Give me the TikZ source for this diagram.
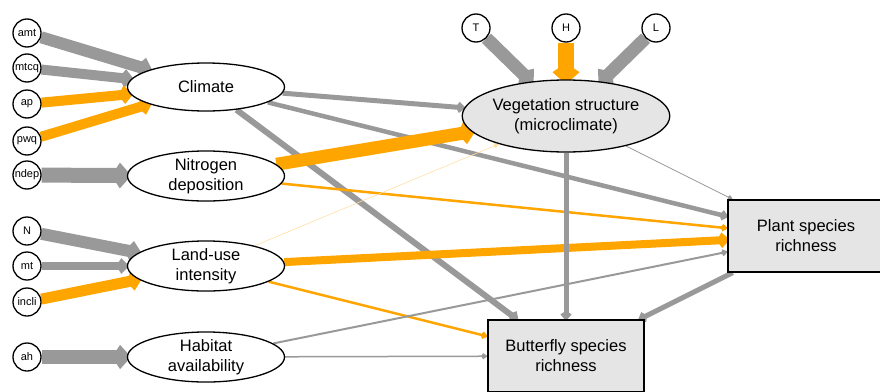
\documentclass[tikz,border=0pt]{standalone}
\usepackage{fontspec}
\setmainfont{Liberation Sans}
\usepackage{tikz}
\usetikzlibrary{shapes.geometric}
\usetikzlibrary{arrows.meta}
\usetikzlibrary{backgrounds}

\definecolor{effgray}{HTML}{999999}
\definecolor{efforange}{HTML}{FFA500}
\definecolor{boxgray}{HTML}{E5E5E5}

\begin{document}
\begin{tikzpicture}[x=1pt,y=-1pt,
    obs/.style={circle,draw,line width=1.3pt,fill=white,minimum size=28pt,
      inner sep=0pt,font=\fontsize{11}{13}\selectfont},
    lat/.style={ellipse,draw,line width=1.3pt,fill=white,minimum width=157pt,
      minimum height=48pt,inner sep=0pt,align=center,
      font=\fontsize{16.5}{20}\selectfont},
    resp/.style={rectangle,draw,line width=1.3pt,fill=boxgray,minimum width=156pt,
      minimum height=72pt,inner sep=0pt,align=center,
      font=\fontsize{16.5}{20}\selectfont},
    eff/.style 2 args={draw=#1,line width=#2pt,shorten >=-0.3*#2pt,
      -{Kite[length=5pt 1.0,width=4pt 1.45,inset=1pt 0.5]}}]
  \useasboundingbox (0,0) rectangle (880,391);

  % exogenous indicators
  \node[obs] (amt) at (27,33) {amt};
  \node[obs] (mtcq) at (27,68) {mtcq};
  \node[obs] (ap) at (27,104) {ap};
  \node[obs] (pwq) at (27,141) {pwq};
  \node[obs] (ndep) at (27,175) {ndep};
  \node[obs] (N) at (27,231) {N};
  \node[obs] (mt) at (27,266) {mt};
  \node[obs] (incli) at (27,302) {incli};
  \node[obs] (ah) at (27,357) {ah};
  \node[obs] (T) at (476,28) {T};
  \node[obs] (H) at (566,28) {H};
  \node[obs] (L) at (656,28) {L};

  % latent drivers
  \node[lat] (clim) at (206,87) {Climate};
  \node[lat] (ndepo) at (206,176) {Nitrogen\\deposition};
  \node[lat] (landuse) at (206,266) {Land-use\\intensity};
  \node[lat] (habitat) at (206,357) {Habitat\\availability};
  \node[lat,fill=boxgray,minimum width=180pt,minimum height=72pt] (veg)
    at (566,116) {Vegetation structure\\(microclimate)};

  % responses
  \node[resp] (plant) at (806,236) {Plant species\\richness};
  \node[resp] (butter) at (566,356) {Butterfly species\\richness};

  \begin{pgfonlayer}{background}
  % measurement paths
  \draw[eff={effgray}{12}] (amt) -- (clim);
  \draw[eff={effgray}{10}] (mtcq) -- (clim);
  \draw[eff={efforange}{10}] (ap) -- (clim);
  \draw[eff={efforange}{10}] (pwq) -- (clim);
  \draw[eff={effgray}{15}] (ndep) -- (ndepo);
  \draw[eff={effgray}{12}] (N) -- (landuse);
  \draw[eff={effgray}{8}] (mt) -- (landuse);
  \draw[eff={efforange}{11}] (incli) -- (landuse);
  \draw[eff={effgray}{14}] (ah) -- (habitat);
  \draw[eff={effgray}{13}] (T) -- (veg);
  \draw[eff={efforange}{16}] (H) -- (veg);
  \draw[eff={effgray}{13}] (L) -- (veg);

  % structural paths
  \draw[eff={effgray}{5}] (clim) -- (veg);
  \draw[eff={effgray}{4.5}] (clim) -- (plant);
  \draw[eff={effgray}{6}] (clim) -- (butter);
  \draw[eff={efforange}{13}] (ndepo) -- (veg);
  \draw[eff={efforange}{2.5}] (ndepo) -- (plant);
  \draw[eff={efforange!35}{0.6}] (landuse) -- (veg);
  \draw[eff={efforange}{8}] (landuse) -- (plant);
  \draw[eff={efforange}{2.5}] (landuse) -- (butter);
  \draw[eff={effgray}{2}] (habitat) -- (plant);
  \draw[eff={effgray}{1.5}] (habitat) -- (butter);
  \draw[eff={effgray}{0.8}] (veg) -- (plant);
  \draw[eff={effgray}{5}] (veg) -- (butter);
  \draw[eff={effgray}{5}] (plant) -- (butter);
  \end{pgfonlayer}
\end{tikzpicture}
\end{document}
